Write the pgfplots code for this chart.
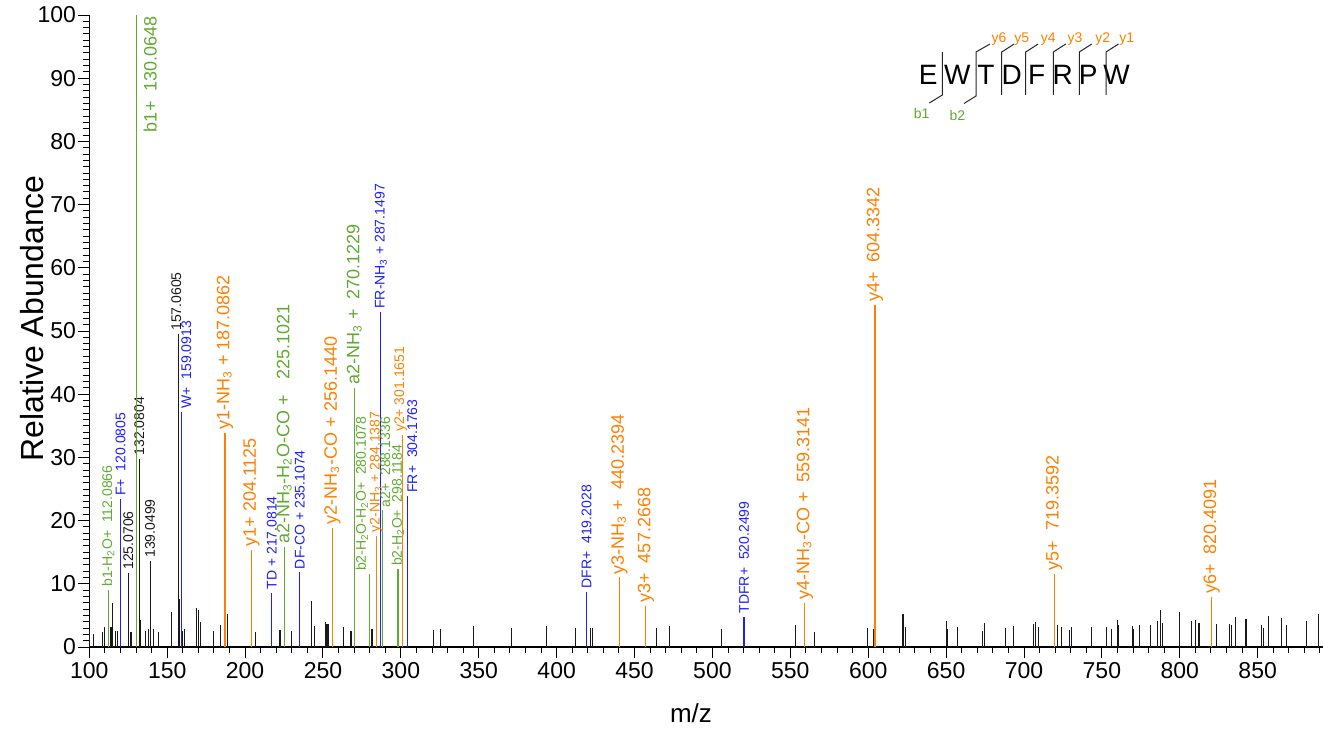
\documentclass[border=0pt]{standalone}
\usepackage{fontspec}
\setmainfont{Liberation Sans}
\usepackage{pgfplots}
\usepackage{pgfplotstable}
\pgfplotsset{compat=1.18}

\definecolor{ionb}{RGB}{96,170,48}
\definecolor{iony}{RGB}{255,128,0}
\definecolor{ionint}{RGB}{30,30,255}
\definecolor{peak}{RGB}{25,25,25}

\newcommand\lblS{\fontsize{7}{8}\selectfont}
\newcommand\lblB{\fontsize{9}{10}\selectfont}
\newcommand\sub[1]{\textsubscript{#1}}

% \ion[xshift]{colour}{m/z}{intensity}{font}{label}
\newcommand\ion[6][0pt]{%
  \addplot[ycomb, draw=#2, line width=0.6pt] coordinates {(#3,#4)};
  \node[text=#2, font=#5, inner sep=0.5pt, xshift=#1, yshift=1pt, rotate=90, anchor=west]
    at (axis cs:#3,#4) {#6};
}

% unassigned peaks
\pgfplotstableread{
mz h
100.4 2.5
102.6 2.0
108.4 2.4
109.8 3.2
112.6 3.1
113.9 3.1
115.0 6.9
116.9 2.6
118.2 2.5
126.8 2.4
132.8 4.2
135.8 2.6
137.9 2.8
141.1 2.9
144.3 2.4
152.9 5.6
158.0 7.6
159.7 2.6
161.0 2.9
169.1 6.2
170.0 5.9
171.4 4.0
180.0 2.6
184.5 3.5
188.6 5.3
206.5 2.4
222.4 2.7
229.9 2.5
242.9 7.3
244.8 3.3
251.5 4.0
252.4 3.7
253.2 3.6
263.0 3.1
268.0 2.5
281.5 2.8
320.8 2.7
325.3 2.8
346.9 3.3
370.9 3.0
393.2 3.3
411.9 3.0
421.8 3.0
423.1 3.0
464.2 3.0
472.6 3.3
505.6 2.8
553.4 3.5
565.6 2.4
599.6 3.0
603.2 2.8
622.3 5.2
624.2 3.2
650.3 4.1
651.0 2.8
657.4 3.2
673.2 2.5
674.5 3.8
688.2 3.0
693.3 3.3
706.2 3.6
707.5 4.0
709.1 3.2
721.3 3.5
723.9 3.2
729.1 2.7
730.4 3.2
743.4 3.2
753.2 3.2
756.4 2.9
760.3 4.3
760.9 3.5
769.9 3.3
770.5 2.9
774.0 3.5
781.3 3.5
785.5 4.1
787.5 5.8
788.7 3.8
799.9 5.5
807.6 4.1
810.3 4.3
812.3 3.8
823.6 3.6
832.0 3.6
833.2 3.5
835.8 4.8
842.2 4.4
842.9 4.4
852.7 3.5
854.0 3.0
857.2 4.9
865.1 4.6
868.3 3.5
881.4 4.1
889.1 5.2
}\noisepeaks

\begin{document}
\begin{tikzpicture}
\begin{axis}[
  scale only axis,
  width=616.9pt, height=316pt,
  xmin=100, xmax=892, ymin=0, ymax=100,
  axis x line=bottom, axis y line=left,
  axis line style={-, line width=0.6pt},
  tick align=outside,
  major tick length=5.5pt, minor tick length=3pt,
  tick style={line width=0.5pt, black},
  xtick={100,150,...,850},
  minor xtick={100,110,...,890},
  ytick={0,10,...,100},
  minor ytick={0,1,...,100},
  /pgf/number format/assume math mode=true,
  ticklabel style={font=\fontsize{11.5}{13}\selectfont},
  xticklabel style={inner sep=2pt},
  yticklabel style={inner sep=1pt},
  clip=false,
]
\coordinate (o) at (rel axis cs:0,0);

\addplot[ycomb, draw=peak, line width=0.55pt] table[x=mz, y=h] {\noisepeaks};

% assigned fragments without ion type
\ion{peak}{125.0706}{11.7}{\lblS}{125.0706}
\ion{peak}{132.0804}{29.8}{\lblS}{132.0804}
\ion{peak}{139.0499}{13.6}{\lblS}{139.0499}
\ion[-1pt]{peak}{157.0605}{49.5}{\lblS}{157.0605}

% internal fragments
\ion{ionint}{120.0805}{23.4}{\lblS}{F+\ \ 120.0805}
\ion[2.5pt]{ionint}{159.0913}{37.2}{\lblS}{W+\ \ 159.0913}
\ion{ionint}{217.0814}{8.6}{\lblS}{TD + 217.0814}
\ion{ionint}{235.1074}{11.8}{\lblS}{DF-CO + 235.1074}
\ion{ionint}{287.1497}{53.0}{\lblS}{FR-NH\sub{3} + 287.1497}
\ion[2.5pt]{ionint}{304.1763}{23.9}{\lblS}{FR+\ \ 304.1763}
\ion{ionint}{419.2028}{8.75}{\lblS}{DFR+\ \ 419.2028}
\ion{ionint}{520.2499}{4.8}{\lblS}{TDFR+\ \ 520.2499}

% b / a ions
\ion{ionb}{112.0866}{9.0}{\lblS}{b1-H\sub{2}O+\ \ 112.0866}
\addplot[ycomb, draw=ionb, line width=0.6pt] coordinates {(130.0648,100)};
\node[text=ionb, font=\lblB, inner sep=0.5pt, xshift=7pt, rotate=90, anchor=east]
  at (axis cs:130.0648,100) {b1+\ \ 130.0648};
\ion{ionb}{225.1021}{15.8}{\lblB}{a2-NH\sub{3}-H\sub{2}O-CO +\ \ \ 225.1021}
\ion{ionb}{270.1229}{41.0}{\lblB}{a2-NH\sub{3} +\ \ 270.1229}
\ion[-4pt]{ionb}{280.1078}{11.5}{\lblS}{b2-H\sub{2}O-H\sub{2}O+\ \ 280.1078}
\ion[1.5pt]{ionb}{288.1336}{21.6}{\lblS}{a2+\ \ 288.1336}
\ion{ionb}{298.1184}{12.3}{\lblS}{b2-H\sub{2}O+\ \ 298.1184}

% y ions
\ion{iony}{187.0862}{33.9}{\lblB}{y1-NH\sub{3} + 187.0862}
\ion{iony}{204.1125}{15.4}{\lblB}{y1+ 204.1125}
\ion{iony}{256.1440}{18.9}{\lblB}{y2-NH\sub{3}-CO + 256.1440}
\ion{iony}{284.1387}{17.6}{\lblS}{y2-NH\sub{3} + 284.1387}
\ion[-1pt]{iony}{301.1651}{33.5}{\lblS}{y2+ 301.1651}
\ion{iony}{440.2394}{11.0}{\lblB}{y3-NH\sub{3} +\ \ 440.2394}
\ion{iony}{457.2668}{6.5}{\lblB}{y3+\ \ 457.2668}
\ion{iony}{559.3141}{7.0}{\lblB}{y4-NH\sub{3}-CO +\ \ 559.3141}
\ion{iony}{604.3342}{54.1}{\lblB}{y4+\ \ 604.3342}
\ion{iony}{719.3592}{11.6}{\lblB}{y5+\ \ 719.3592}
\ion{iony}{820.4091}{7.9}{\lblB}{y6+\ \ 820.4091}

% axis titles
\node[font=\fontsize{13}{15}\selectfont, anchor=base]
  at ([yshift=-37.5pt]axis description cs:0.4877,0) {m/z};
\node[font=\fontsize{16}{18}\selectfont, rotate=90, anchor=base]
  at ([xshift=-23pt]axis description cs:0,0.52) {Relative Abundance};
\end{axis}

\coordinate (tl) at ([xshift=-44.65pt, yshift=323.5pt]o);

% sequence with fragmentation sites
\begin{scope}[shift={(tl)}, x=0.5pt, y=-0.5pt, line width=0.5pt]
  \foreach \c/\s in {928.3/E, 957.3/W, 986/T, 1011.7/D, 1036.7/F, 1062.7/R, 1088.3/P, 1116.7/W}
    \node[font=\fontsize{14}{16}\selectfont, anchor=base, inner sep=0pt] at (\c,85) {\s};
  \draw[black!85] (942.3,52) -- (942.3,95) -- (929.3,103);
  \draw[black!85] (990,44) -- (976,52) -- (976,96) -- (964,103.5);
  \foreach \c in {1001.7, 1025.7, 1053.3, 1079.3, 1106}
    \draw[black!85] (\c+12.5,44) -- (\c,52) -- (\c,95);
  \foreach \c/\t in {999/y6, 1021.7/y5, 1048.3/y4, 1075/y3, 1102.7/y2, 1126.7/y1}
    \node[text=iony, font=\fontsize{7}{8}\selectfont, inner sep=0pt] at (\c,39) {\t};
  \node[text=ionb, font=\fontsize{7}{8}\selectfont, inner sep=0pt] at (921.7,113) {b1};
  \node[text=ionb, font=\fontsize{7}{8}\selectfont, inner sep=0pt] at (957.3,115) {b2};
\end{scope}

\pgfresetboundingbox
\path (tl) rectangle ++(662pt,-367.5pt);
\end{tikzpicture}
\end{document}
